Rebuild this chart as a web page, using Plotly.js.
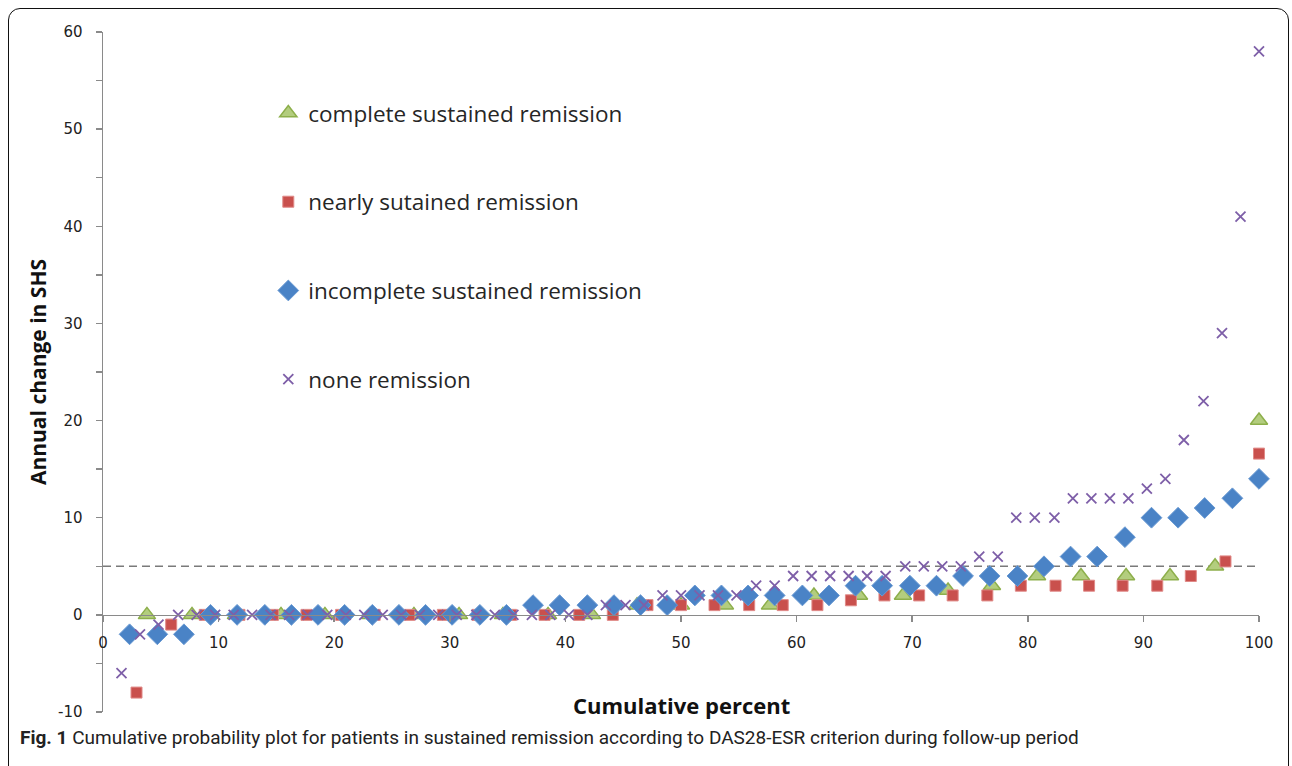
<!DOCTYPE html>
<html>
<head>
<meta charset="utf-8">
<script src="https://cdn.plot.ly/plotly-3.0.1.min.js"></script>
<style>
  html, body { margin: 0; padding: 0; background: #fff; }
  #wrap { position: relative; width: 1292px; height: 766px; overflow: hidden; }
  #chart { width: 1292px; height: 766px; }
  #frame { position: absolute; left: 8px; top: 8px; width: 1281px; height: 770px;
           border: 1.5px solid #111; border-radius: 12px 12px 0 0; pointer-events: none; box-sizing: border-box; }
</style>
</head>
<body>
<div id="wrap">
  <div id="chart"></div>
  <div id="frame"></div>
</div>
<script>
// ---- data ----
const seriesNames = ["complete sustained remission", "nearly sutained remission", "incomplete sustained remission", "none remission"];

const completeX = [3.8, 7.7, 11.5, 15.4, 19.2, 23.1, 26.9, 30.8, 34.6, 38.5, 42.3, 46.2, 50.0, 53.8, 57.7, 61.5, 65.4, 69.2, 73.1, 76.9, 80.8, 84.6, 88.5, 92.3, 96.2, 100];
const completeY = [0, 0, 0, 0, 0, 0, 0, 0, 0, 0, 0, 1, 1, 1, 1, 2, 2, 2, 2.5, 3, 4, 4, 4, 4, 5, 20];

const nearlyX = [2.9, 5.9, 8.8, 11.8, 14.7, 17.6, 20.6, 23.5, 26.5, 29.4, 32.4, 35.3, 38.2, 41.2, 44.1, 47.1, 50.0, 52.9, 55.9, 58.8, 61.8, 64.7, 67.6, 70.6, 73.5, 76.5, 79.4, 82.4, 85.3, 88.2, 91.2, 94.1, 97.1, 100];
const nearlyY = [-8, -1, 0, 0, 0, 0, 0, 0, 0, 0, 0, 0, 0, 0, 0, 1, 1, 1, 1, 1, 1, 1.5, 2, 2, 2, 2, 3, 3, 3, 3, 3, 4, 5.5, 16.6];

const incompleteX = [2.3, 4.7, 7.0, 9.3, 11.6, 14.0, 16.3, 18.6, 20.9, 23.3, 25.6, 27.9, 30.2, 32.6, 34.9, 37.2, 39.5, 41.9, 44.2, 46.5, 48.8, 51.2, 53.5, 55.8, 58.1, 60.5, 62.8, 65.1, 67.4, 69.8, 72.1, 74.4, 76.7, 79.1, 81.4, 83.7, 86.0, 88.4, 90.7, 93.0, 95.3, 97.7, 100];
const incompleteY = [-2, -2, -2, 0, 0, 0, 0, 0, 0, 0, 0, 0, 0, 0, 0, 1, 1, 1, 1, 1, 1, 2, 2, 2, 2, 2, 2, 3, 3, 3, 3, 4, 4, 4, 5, 6, 6, 8, 10, 10, 11, 12, 14];

const noneX = [1.6, 3.2, 4.8, 6.5, 8.1, 9.7, 11.3, 12.9, 14.5, 16.1, 17.7, 19.4, 21.0, 22.6, 24.2, 25.8, 27.4, 29.0, 30.6, 32.3, 33.9, 35.5, 37.1, 38.7, 40.3, 41.9, 43.5, 45.2, 46.8, 48.4, 50.0, 51.6, 53.2, 54.8, 56.5, 58.1, 59.7, 61.3, 62.9, 64.5, 66.1, 67.7, 69.4, 71.0, 72.6, 74.2, 75.8, 77.4, 79.0, 80.6, 82.3, 83.9, 85.5, 87.1, 88.7, 90.3, 91.9, 93.5, 95.2, 96.8, 98.4, 100];
const noneY = [-6, -2, -1, 0, 0, 0, 0, 0, 0, 0, 0, 0, 0, 0, 0, 0, 0, 0, 0, 0, 0, 0, 0, 0, 0, 0, 1, 1, 1, 2, 2, 2, 2, 2, 3, 3, 4, 4, 4, 4, 4, 4, 5, 5, 5, 5, 6, 6, 10, 10, 10, 12, 12, 12, 12, 13, 14, 18, 22, 29, 41, 58];

const referenceLevel = 5;
const xTickVals = [0, 10, 20, 30, 40, 50, 60, 70, 80, 90, 100];
const yTickVals = [-10, 0, 10, 20, 30, 40, 50, 60];

// ---- traces ----
const traces = [
  { x: completeX, y: completeY, name: seriesNames[0], legendgroup: "a",
    mode: "markers", type: "scatter", cliponaxis: false,
    marker: { symbol: "triangle-up", size: 15, color: "#B3CD7E", line: { color: "#8DAF4B", width: 1.5 } } },
  { x: nearlyX, y: nearlyY, name: seriesNames[1], legendgroup: "b",
    mode: "markers", type: "scatter", cliponaxis: false,
    marker: { symbol: "square", size: 11, color: "#C9504D", line: { color: "#E08a88", width: 1 } } },
  { x: incompleteX, y: incompleteY, name: seriesNames[2], legendgroup: "c",
    mode: "markers", type: "scatter", cliponaxis: false,
    marker: { symbol: "diamond", size: 16, color: "#4A83C6", line: { color: "#6a9ad3", width: 1 } } },
  { x: noneX, y: noneY, name: seriesNames[3], legendgroup: "d",
    mode: "markers", type: "scatter", cliponaxis: false,
    marker: { symbol: "x-thin", size: 10, color: "#7E5FA8", line: { color: "#7E5FA8", width: 1.8 } } }
];

const axisGray = "#8a8a8a";
const textColor = "#222";

const layout = {
  width: 1292, height: 766,
  margin: { l: 103, r: 33, t: 32, b: 54, pad: 0 },
  paper_bgcolor: "#fff", plot_bgcolor: "#fff",
  showlegend: true,
  legend: {
    x: 0.143, y: 0.912, xanchor: "left", yanchor: "top",
    font: { family: "Open Sans, sans-serif", size: 22.5, color: "#262626" },
    tracegroupgap: 56.5, bgcolor: "rgba(0,0,0,0)", itemclick: false
  },
  xaxis: {
    range: [0, 100], tickvals: xTickVals, ticktext: xTickVals.map(String),
    anchor: "free", position: 10 / 70,
    showline: true, linecolor: axisGray, linewidth: 1.5,
    ticks: "outside", ticklen: 6, tickcolor: axisGray, tickwidth: 1.5,
    showgrid: false, zeroline: false,
    ticklabelstandoff: 8,
    tickfont: { family: "DejaVu Sans, Verdana, sans-serif", size: 15, color: textColor }
  },
  yaxis: {
    range: [-10, 60], tickvals: yTickVals, ticktext: yTickVals.map(String),
    showline: true, linecolor: axisGray, linewidth: 1.5,
    ticks: "outside", ticklen: 6, tickcolor: axisGray, tickwidth: 1.5,
    minor: { dtick: 5, ticks: "outside", ticklen: 6, tickcolor: axisGray, tickwidth: 1.5 },
    showgrid: false, zeroline: false,
    ticklabelstandoff: 10,
    tickfont: { family: "DejaVu Sans, Verdana, sans-serif", size: 15, color: textColor },
    title: { text: "<b>Annual change in SHS</b>", standoff: 5,
             font: { family: "Open Sans, sans-serif", size: 21, color: "#111" } }
  },
  shapes: [
    { type: "line", xref: "x", yref: "y", x0: 0, x1: 100, y0: referenceLevel, y1: referenceLevel,
      layer: "below", line: { color: "#7a7a7a", width: 1.5, dash: "8px,5px" } }
  ],
  annotations: [
    { text: "<b>Cumulative percent</b>", xref: "paper", yref: "paper", x: 0.5, y: 0.01,
      xanchor: "center", yanchor: "middle", showarrow: false,
      font: { family: "Open Sans, sans-serif", size: 22, color: "#111" } },
    { text: "<b>Fig. 1</b> Cumulative probability plot for patients in sustained remission according to DAS28-ESR criterion during follow-up period",
      xref: "paper", yref: "paper", x: -0.0735, y: -0.038, xanchor: "left", yanchor: "middle",
      showarrow: false,
      font: { family: "Liberation Sans Narrow, Roboto, sans-serif", size: 19, color: "#222" } }
  ]
};

Plotly.newPlot("chart", traces, layout, { staticPlot: true, displayModeBar: false });
</script>
</body>
</html>
